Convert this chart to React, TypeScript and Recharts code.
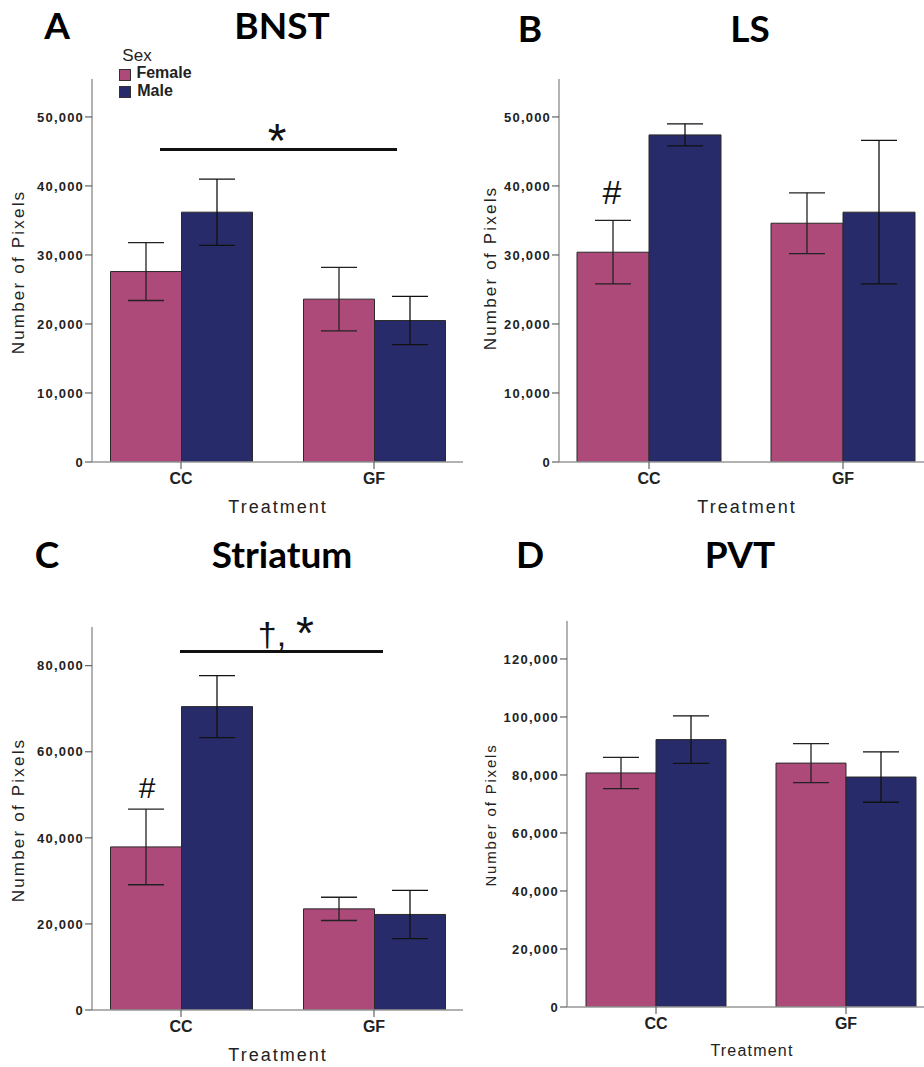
import React from 'react';
import { BarChart, Bar, XAxis, YAxis, ErrorBar } from 'recharts';

const categories = ['CC', 'GF'];

const bnstFemale = [27600, 23600];
const bnstFemaleErr = [4200, 4600];
const bnstMale = [36200, 20500];
const bnstMaleErr = [4800, 3500];

const lsFemale = [30400, 34600];
const lsFemaleErr = [4600, 4400];
const lsMale = [47400, 36200];
const lsMaleErr = [1600, 10400];

const striatumFemale = [37900, 23500];
const striatumFemaleErr = [8800, 2700];
const striatumMale = [70500, 22200];
const striatumMaleErr = [7200, 5600];

const pvtFemale = [80700, 84100];
const pvtFemaleErr = [5400, 6700];
const pvtMale = [92200, 79300];
const pvtMaleErr = [8200, 8700];

const ticks50k = [0, 10000, 20000, 30000, 40000, 50000];
const ticks80k = [0, 20000, 40000, 60000, 80000];
const ticks120k = [0, 20000, 40000, 60000, 80000, 100000, 120000];

const FEMALE = '#ad4a7a';
const MALE = '#282b6a';
const FONT = '"Liberation Sans", Arial, sans-serif';
const TITLE_FONT = 'Lato, "Open Sans", sans-serif';

const buildRows = (f: number[], fe: number[], m: number[], me: number[]) =>
  categories.map((name, i) => ({
    name,
    female: f[i],
    femaleErr: fe[i],
    male: m[i],
    maleErr: me[i],
  }));

const YTick = (props: any) => {
  const { x, y, payload } = props;
  return (
    <text x={x} y={y} dy="0.36em" textAnchor="end" fontFamily={FONT} fontSize={13}
      fontWeight="bold" fill="#222" style={{ letterSpacing: 1.2 }}>
      {Number(payload.value).toLocaleString('en-US')}
    </text>
  );
};

const XTick = (props: any) => {
  const { x, y, payload } = props;
  return (
    <text x={x} y={y} dy="0.71em" textAnchor="middle" fontFamily={FONT} fontSize={16}
      fontWeight="bold" fill="#222">
      {payload.value}
    </text>
  );
};

interface PanelProps {
  left: number;
  top: number;
  width: number;
  height: number;
  marginTop: number;
  marginBottom: number;
  yWidth: number;
  max: number;
  ticks: number[];
  rows: any[];
  padL: number;
  padR: number;
  barSize: number;
}

const Panel: React.FC<PanelProps> = (p) => (
  <div style={{ position: 'absolute', left: p.left, top: p.top }}>
    <BarChart
      width={p.width}
      height={p.height}
      data={p.rows}
      margin={{ top: p.marginTop, right: 0, bottom: p.marginBottom, left: 0 }}
      barGap={0}
      barSize={p.barSize}
    >
      <XAxis
        dataKey="name"
        height={30}
        padding={{ left: p.padL, right: p.padR }}
        axisLine={{ stroke: '#999', strokeWidth: 1.5 }}
        tickLine={{ stroke: '#444' }}
        tickSize={7}
        tickMargin={4}
        tick={<XTick />}
      />
      <YAxis
        width={p.yWidth}
        domain={[0, p.max]}
        ticks={p.ticks}
        allowDataOverflow
        axisLine={{ stroke: '#999', strokeWidth: 1.5 }}
        tickLine={{ stroke: '#444' }}
        tickSize={7}
        tickMargin={1}
        tick={<YTick />}
      />
      <Bar dataKey="female" fill={FEMALE} stroke="#2a2a2a" strokeWidth={1} isAnimationActive={false}>
        <ErrorBar dataKey="femaleErr" width={18} stroke="#222" strokeWidth={1.3} isAnimationActive={false} />
      </Bar>
      <Bar dataKey="male" fill={MALE} stroke="#2a2a2a" strokeWidth={1} isAnimationActive={false}>
        <ErrorBar dataKey="maleErr" width={18} stroke="#111" strokeWidth={1.3} isAnimationActive={false} />
      </Bar>
    </BarChart>
  </div>
);

const Txt: React.FC<{ x: number; y: number; size: number; bold?: boolean; font?: string; spacing?: number; rotate?: boolean; color?: string; children: React.ReactNode }> = ({ x, y, size, bold, font, spacing, rotate, color, children }) => (
  <div
    style={{
      position: 'absolute',
      left: x,
      top: y,
      transform: `translate(-50%, -50%)${rotate ? ' rotate(-90deg)' : ''}`,
      fontFamily: font || FONT,
      fontSize: size,
      fontWeight: bold ? 700 : 400,
      letterSpacing: spacing || 0,
      lineHeight: 1,
      whiteSpace: 'nowrap',
      color: color || '#222',
    }}
  >
    {children}
  </div>
);

const Line: React.FC<{ x1: number; x2: number; y: number }> = ({ x1, x2, y }) => (
  <div style={{ position: 'absolute', left: x1, top: y - 1, width: x2 - x1, height: 2.5, background: '#111' }} />
);

const Swatch: React.FC<{ x: number; y: number; color: string }> = ({ x, y, color }) => (
  <div style={{ position: 'absolute', left: x, top: y, width: 10, height: 10, background: color, border: '1px solid #333' }} />
);

export default function App() {
  return (
    <div style={{ position: 'absolute', left: 0, top: 0, width: 924, height: 1067, background: '#fff', overflow: 'hidden' }}>
      <Panel left={0} top={0} width={463} height={530} marginTop={79} marginBottom={38} yWidth={92}
        max={55500} ticks={ticks50k} rows={buildRows(bnstFemale, bnstFemaleErr, bnstMale, bnstMaleErr)}
        padL={-7.5} padR={-7.5} barSize={71} />
      <Panel left={463} top={0} width={461} height={530} marginTop={79} marginBottom={38} yWidth={96}
        max={55500} ticks={ticks50k} rows={buildRows(lsFemale, lsFemaleErr, lsMale, lsMaleErr)}
        padL={-7} padR={-16} barSize={72} />
      <Panel left={0} top={530} width={463} height={537} marginTop={97} marginBottom={27} yWidth={92}
        max={89000} ticks={ticks80k} rows={buildRows(striatumFemale, striatumFemaleErr, striatumMale, striatumMaleErr)}
        padL={-7.5} padR={-7.5} barSize={71} />
      <Panel left={463} top={530} width={461} height={537} marginTop={91} marginBottom={30} yWidth={104}
        max={133100} ticks={ticks120k} rows={buildRows(pvtFemale, pvtFemaleErr, pvtMale, pvtMaleErr)}
        padL={-6} padR={-17} barSize={70} />

      {/* panel titles */}
      <Txt x={57} y={24} size={37} bold font={TITLE_FONT} color="#000">A</Txt>
      <Txt x={282} y={24} size={37} bold font={TITLE_FONT} color="#000">BNST</Txt>
      <Txt x={530} y={27} size={37} bold font={TITLE_FONT} color="#000">B</Txt>
      <Txt x={750} y={27} size={37} bold font={TITLE_FONT} color="#000">LS</Txt>
      <Txt x={47} y={553} size={37} bold font={TITLE_FONT} color="#000">C</Txt>
      <Txt x={282} y={553} size={37} bold font={TITLE_FONT} color="#000">Striatum</Txt>
      <Txt x={530} y={553} size={37} bold font={TITLE_FONT} color="#000">D</Txt>
      <Txt x={740} y={553} size={37} bold font={TITLE_FONT} color="#000">PVT</Txt>

      {/* legend */}
      <Txt x={137} y={55} size={17}>Sex</Txt>
      <Swatch x={119} y={69} color={FEMALE} />
      <Txt x={164} y={73} size={16} bold>Female</Txt>
      <Swatch x={119} y={86} color={MALE} />
      <Txt x={155} y={91} size={16} bold>Male</Txt>

      {/* axis titles */}
      <Txt x={18} y={272} size={17} spacing={2.2} rotate>Number of Pixels</Txt>
      <Txt x={490} y={268} size={17} spacing={2.2} rotate>Number of Pixels</Txt>
      <Txt x={18} y={820} size={17} spacing={2.2} rotate>Number of Pixels</Txt>
      <Txt x={490} y={815} size={15} spacing={1.8} rotate>Number of Pixels</Txt>
      <Txt x={278} y={507} size={18} spacing={2}>Treatment</Txt>
      <Txt x={747} y={507} size={18} spacing={2}>Treatment</Txt>
      <Txt x={278} y={1055} size={18} spacing={2}>Treatment</Txt>
      <Txt x={752} y={1051} size={16} spacing={1.2}>Treatment</Txt>

      {/* significance marks */}
      <Line x1={160} x2={397} y={149} />
      <Txt x={277} y={141} size={48} color="#111">*</Txt>
      <Line x1={180} x2={383} y={651} />
      <Txt x={272} y={634} size={34} color="#111">†,</Txt>
      <Txt x={305} y={633} size={46} color="#111">*</Txt>
      <Txt x={612} y={192} size={34} color="#111">#</Txt>
      <Txt x={147} y={788} size={30} color="#111">#</Txt>
    </div>
  );
}
